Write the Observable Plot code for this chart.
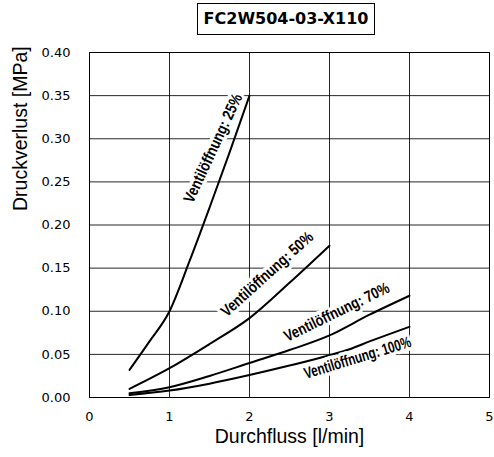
<!DOCTYPE html>
<html><head><meta charset="utf-8">
<script src="https://cdn.jsdelivr.net/npm/d3@7"></script>
<script src="https://cdn.jsdelivr.net/npm/@observablehq/plot@0.6"></script>
<style>
body{margin:0;background:#fff;}
#wrap{position:relative;width:494px;height:457px;}
#title{position:absolute;left:197px;top:3px;width:176px;height:30px;border:1px solid #000;font:bold 16px "DejaVu Sans",Verdana,sans-serif;text-align:center;line-height:30px;background:#fff;white-space:nowrap;}
</style></head>
<body><div id="wrap"><div id="title">FC2W504-03-X110</div></div>
<script>
const titleText = "FC2W504-03-X110";
const xTicks = [0,1,2,3,4,5];
const yTicks = [0,0.05,0.10,0.15,0.20,0.25,0.30,0.35,0.40];
const flow25 = [0.5,0.75,1.0,1.25,1.5,1.75,2.0];
const drop25 = [0.032,0.065,0.100,0.158,0.220,0.284,0.350];
const flow50 = [0.5,1.0,1.5,2.0,2.5,3.0];
const drop50 = [0.010,0.034,0.062,0.092,0.133,0.176];
const flow70 = [0.5,1.0,1.5,2.0,2.5,3.0,3.5,4.0];
const drop70 = [0.005,0.012,0.025,0.040,0.055,0.072,0.096,0.118];
const flow100 = [0.5,1.0,1.5,2.0,2.5,3.0,3.25,3.5,4.0];
const drop100 = [0.003,0.008,0.016,0.026,0.037,0.049,0.056,0.065,0.082];
const labels = ["Ventilöffnung: 25%","Ventilöffnung: 50%","Ventilöffnung: 70%","Ventilöffnung: 100%"];
const labelX = [1.544,2.22,3.09,3.35];
const labelY = [0.289,0.143,0.099,0.046];
const labelRot = [-65,-42,-26,-17];
const labelLen = [118,118,115,111];

const series = [[flow25,drop25],[flow50,drop50],[flow70,drop70],[flow100,drop100]]
  .map(([xs,ys],k)=>xs.map((x,i)=>({x,y:ys[i],s:k}))).flat();
const lab = labels.map((t,i)=>({t,x:labelX[i],y:labelY[i],r:labelRot[i]}));

const chart = Plot.plot({
  width:494,height:457,
  marginLeft:89,marginRight:5,marginTop:52,marginBottom:60,
  style:{fontFamily:"'DejaVu Sans',Verdana,sans-serif",fontSize:"13px",color:"#000",background:"transparent",overflow:"visible"},
  x:{domain:[0,5],ticks:xTicks,tickSize:0,label:null},
  y:{domain:[0,0.4],ticks:yTicks,tickSize:0,label:null},
  marks:[
    Plot.gridX(xTicks,{stroke:"#000",strokeOpacity:0.85,strokeWidth:1}),
    Plot.gridY(yTicks,{stroke:"#000",strokeOpacity:0.85,strokeWidth:1}),
    Plot.line(series,{x:"x",y:"y",z:"s",stroke:"#000",strokeWidth:2,curve:"monotone-x"}),
    ...lab.map((d,i)=>Plot.text([d],{x:"x",y:"y",text:"t",rotate:d.r,fontSize:16,fontWeight:"bold",
      className:"vlabel"+i,
      fontFamily:"'Liberation Sans',Arial,sans-serif",fill:"#000",stroke:"white",strokeWidth:7})),
    Plot.frame({stroke:"#000"}),
    Plot.axisX({ticks:xTicks,tickSize:0,tickPadding:14,tickFormat:d3.format("d"),label:null}),
    Plot.axisY({ticks:yTicks,tickSize:0,tickPadding:19,tickFormat:d3.format(".2f"),label:null}),
    Plot.text(["Durchfluss [l/min]"],{frameAnchor:"bottom",dy:45,fontSize:19.5,fontFamily:"'Liberation Sans',Arial,sans-serif"}),
    Plot.text(["Druckverlust [MPa]"],{frameAnchor:"left",dx:-69,dy:-14,rotate:-90,fontSize:19.5,fontFamily:"'Liberation Sans',Arial,sans-serif"})
  ]
});
chart.style.position="absolute";chart.style.left="0";chart.style.top="0";
labelLen.forEach((L,i)=>{
  chart.querySelectorAll(".vlabel"+i+" text").forEach(t=>{
    t.setAttribute("textLength",L);
    t.setAttribute("lengthAdjust","spacingAndGlyphs");
  });
});
const wrap=document.getElementById("wrap");
wrap.insertBefore(chart,wrap.firstChild);
document.getElementById("title").textContent=titleText;
</script></body></html>
